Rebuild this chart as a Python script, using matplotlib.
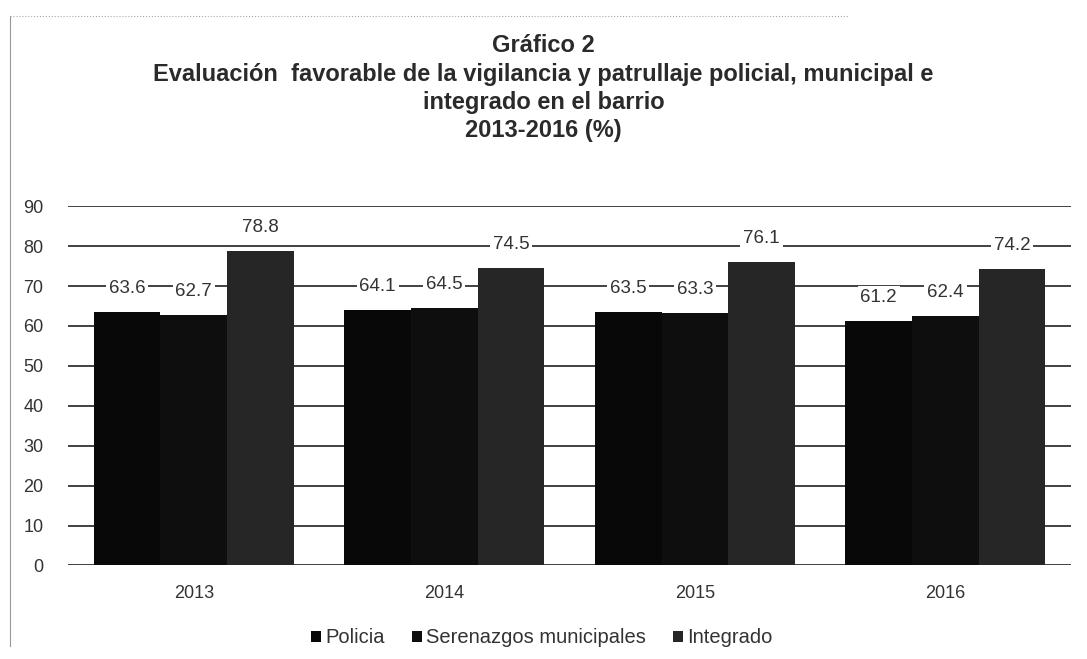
import numpy as np
import matplotlib.pyplot as plt

plt.rcParams['font.family'] = ['Liberation Sans', 'DejaVu Sans']

anios = ["2013", "2014", "2015", "2016"]
policia = [63.6, 64.1, 63.5, 61.2]
serenazgos = [62.7, 64.5, 63.3, 62.4]
integrado = [78.8, 74.5, 76.1, 74.2]
series = ["Policia", "Serenazgos municipales", "Integrado"]
colores = ["#080808", "#0e0e0e", "#262626"]

fig = plt.figure(figsize=(10.87, 6.59), dpi=100)
ax = fig.add_axes([0.063, 0.142, 0.922, 0.545])

x = np.arange(len(anios))
w = 0.266
valores = [policia, serenazgos, integrado]
for i, (vals, nombre, c) in enumerate(zip(valores, series, colores)):
    barras = ax.bar(x + (i - 1) * w, vals, w, color=c, label=nombre, zorder=2)
    for b, v in zip(barras, vals):
        ax.annotate(f"{v:.1f}", (b.get_x() + b.get_width() / 2, v),
                    xytext=(0, 17), textcoords="offset points",
                    ha="center", va="center", fontsize=13.5, color="#333333",
                    bbox=dict(boxstyle="square,pad=0.15", fc="white", ec="none"),
                    zorder=3)

ax.set_xlim(-0.5, 3.5)
ax.set_ylim(0, 90)
ax.set_yticks(range(0, 100, 10))
ax.set_xticks(x)
ax.set_xticklabels(anios)
ax.yaxis.grid(True, color="#333333", linewidth=1.3, zorder=0)
ax.set_axisbelow(True)
for s in ax.spines.values():
    s.set_visible(False)
ax.axhline(0, color="#444444", linewidth=1.3, zorder=1)
ax.tick_params(axis="both", length=0, labelsize=13, colors="#333333")
ax.tick_params(axis="y", pad=18)
ax.tick_params(axis="x", pad=14)

fig.text(0.5, 0.948, "Gráfico 2\nEvaluación  favorable de la vigilancia y patrullaje policial, municipal e\n"
         "integrado en el barrio\n2013-2016 (%)",
         ha="center", va="top", fontsize=17, fontweight="bold", color="#2a2a2a",
         linespacing=1.3)

ax.legend(loc="upper center", bbox_to_anchor=(0.472, -0.125), ncol=3, frameon=False,
          fontsize=14.5, handlelength=0.5, handleheight=0.5, handletextpad=0.2,
          columnspacing=1.35, labelcolor="#333333")

# marco del escaneo
fig.add_artist(plt.Line2D([0.009, 0.009], [0.02, 0.975], color="#999999", linewidth=0.8))
fig.add_artist(plt.Line2D([0.009, 0.78], [0.975, 0.975], color="#aaaaaa", linewidth=0.8, linestyle=":"))

fig.savefig("out.png", dpi=100)
